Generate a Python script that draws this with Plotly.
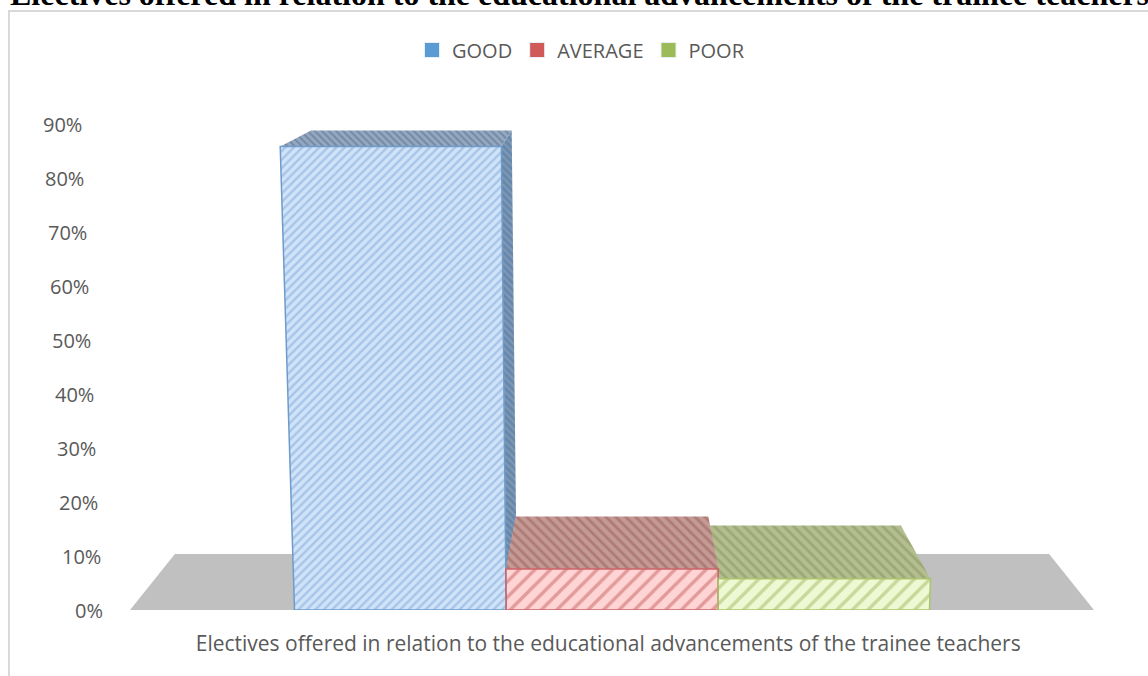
import plotly.graph_objects as go

TITLE = "Electives offered in relation to the educational advancements of the trainee teachers"
CATEGORY = "Electives offered in relation to the educational advancements of the trainee teachers"
SERIES = ["GOOD", "AVERAGE", "POOR"]
VALUES = [86, 7.6, 5.8]
LEGEND_COLORS = ["#5B9BD5", "#D05A58", "#9BBB59"]
TICK_VALUES = [0, 10, 20, 30, 40, 50, 60, 70, 80, 90]
TICK_LABELS = ["0%", "10%", "20%", "30%", "40%", "50%", "60%", "70%", "80%", "90%"]

W, H = 1148, 676
CX_PX, UNIT_PX = 612, 635          # bar group centre / group width in pixels
Y0_PX, PCT_PX = 610, 5.39          # baseline / pixels per percent
SPREAD = 0.045 / 86                # front face widens with height
BACK = 0.907                       # depth shrink towards the vanishing point
RISE0, RISE_K = 10.4, 0.0864       # how far the depth rises on screen
FLOOR_X = 0.759                    # floor half-width at the front
LABEL_FONT = dict(family="Open Sans", size=20, color="#595959")

FRONT = [dict(bg="#D0E3F8", fg="#A6C5E8", shape="/", size=6, sol=0.4, line="#6F9BCB"),
         dict(bg="#FFD4D4", fg="#E29A9A", shape="/", size=11, sol=0.3, line="#CC6468"),
         dict(bg="#EEF8D2", fg="#C6D99A", shape="/", size=11, sol=0.3, line="#ABC46C")]
TOP = [dict(bg="#94A8BF", fg="#7389A5", shape="\\", size=5, sol=0.4),
       dict(bg="#C49A95", fg="#AE7A76", shape="\\", size=7, sol=0.4),
       dict(bg="#B4BE90", fg="#9CA876", shape="\\", size=7, sol=0.4)]
SIDE = dict(bg="#6688AC", fg="#8299B5", shape="\\", size=5, sol=0.4)


def pat(s):
    return dict(shape=s["shape"], bgcolor=s["bg"], fgcolor=s["fg"], size=s["size"],
                solidity=s["sol"], fillmode="replace")


def front_x(x, v):
    return x * (1 + SPREAD * v)


def back_x(x):
    return x * BACK


def rise(v):
    return RISE0 - RISE_K * v


edges = [-0.5, -0.5 + 1 / 3, -0.5 + 2 / 3, 0.5]
fig = go.Figure()

# front faces are real bars
for name, val, st in zip(SERIES, VALUES, FRONT):
    fig.add_trace(go.Bar(name=name, x=[0], y=[val], legendgroup=name, showlegend=False,
                         marker=dict(color=st["bg"], pattern=pat(st), line=dict(width=0))))


def poly(xs, ys, st, line=None):
    fig.add_trace(go.Scatter(x=xs + xs[:1], y=ys + ys[:1], mode="lines", fill="toself",
                             fillcolor=st["bg"], fillpattern=pat(st),
                             line=dict(width=1 if line else 0, color=line or st["bg"]),
                             showlegend=False, hoverinfo="skip"))


# the first bar leans outwards as it rises: its face follows the perspective
v0 = VALUES[0]
poly([edges[1], edges[0], front_x(edges[0], v0), front_x(edges[1], v0)], [0, 0, v0, v0], FRONT[0])

# depth face of GOOD on the right, stopping where AVERAGE begins
vn = VALUES[1]
poly([front_x(edges[1], v0), back_x(front_x(edges[1], v0)),
      back_x(edges[1]), edges[1]],
     [v0, v0 + rise(v0), vn + rise(vn), vn], SIDE)

# top faces, back to front
for i in [0, 2, 1]:
    v = VALUES[i]
    x0, x1 = front_x(edges[i], v), front_x(edges[i + 1], v)
    r = rise(v)
    poly([x0, x1, back_x(x1), back_x(x0)], [v, v, v + r, v + r], TOP[i])

# front-face outlines
for i, st in enumerate(FRONT):
    v = VALUES[i]
    xs = [edges[i], front_x(edges[i], v), front_x(edges[i + 1], v), edges[i + 1], edges[i]]
    fig.add_trace(go.Scatter(x=xs, y=[0, v, v, 0, 0], mode="lines",
                             line=dict(color=st["line"], width=1.5),
                             showlegend=False, hoverinfo="skip"))

# value-axis labels lean with the same perspective as the chart wall
for t, lab in zip(TICK_VALUES, TICK_LABELS):
    fig.add_annotation(x=(104 - 0.233 * t - CX_PX) / UNIT_PX, y=t, text=lab, xref="x", yref="y",
                       xanchor="right", yanchor="middle", showarrow=False, yshift=0,
                       borderpad=0, font=LABEL_FONT)

# legend keys
for name, col in zip(SERIES, LEGEND_COLORS):
    fig.add_trace(go.Scatter(x=[None], y=[None], name=name, legendgroup=name, mode="markers",
                             marker=dict(symbol="square", size=15, color=col,
                                         line=dict(color="#E8EEF5", width=1))))

floor_r = rise(0)
fig.add_shape(type="path", layer="below", line=dict(width=0), fillcolor="#C0C0C0",
              xref="x", yref="y",
              path=f"M {-FLOOR_X} 0 L {FLOOR_X} 0 L {FLOOR_X * BACK} {floor_r} "
                   f"L {-FLOOR_X * BACK} {floor_r} Z")

# outer chart frame, running off the page to the right and bottom
fig.add_shape(type="rect", xref="paper", yref="paper", layer="below",
              x0=9 / W, x1=1.01, y0=-0.2, y1=(Y0_PX - 11) / Y0_PX,
              line=dict(color="#D9D9D9", width=2), fillcolor="rgba(0,0,0,0)")

fig.update_layout(
    width=W, height=H, barmode="group", bargap=0, bargroupgap=0,
    paper_bgcolor="white", plot_bgcolor="rgba(0,0,0,0)",
    margin=dict(l=0, r=0, t=0, b=H - Y0_PX, pad=0),
    font=LABEL_FONT,
    title=dict(text=f"<b>{TITLE}</b>", x=10 / W, xanchor="left", y=1 - 5 / H, yanchor="bottom",
               yref="container", xref="container",
               font=dict(family="Liberation Serif", size=32, color="black")),
    legend=dict(orientation="h", x=0.5 + 7 / W, xanchor="center", y=(Y0_PX - 50) / Y0_PX, yanchor="middle",
                font=dict(family="Open Sans", size=20, color="#595959"), bgcolor="rgba(0,0,0,0)"),
    xaxis=dict(range=[(0 - CX_PX) / UNIT_PX, (W - CX_PX) / UNIT_PX], tickvals=[-0.006], ticktext=[CATEGORY],
               showgrid=False, zeroline=False, showline=False,
               ticks="outside", ticklen=15, tickcolor="rgba(0,0,0,0)",
               tickfont=dict(family="Open Sans", size=21, color="#595959")),
    yaxis=dict(range=[0, Y0_PX / PCT_PX], showgrid=False, zeroline=False, showline=False,
               showticklabels=False, ticks=""),
)

fig.write_html("out.html", config={"displayModeBar": False},
               post_script="document.body.style.margin='0';document.body.style.overflow='hidden';")
